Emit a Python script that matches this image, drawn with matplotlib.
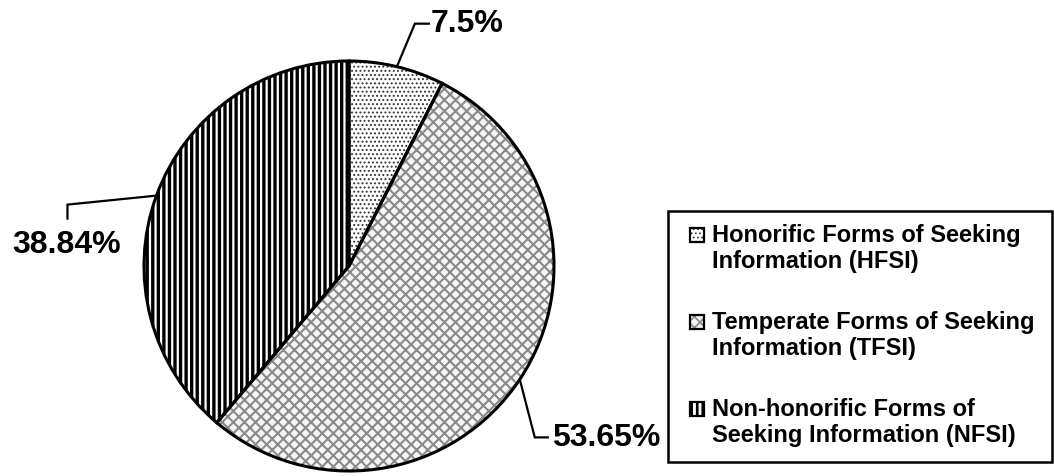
import numpy as np
import matplotlib
matplotlib.use("Agg")
import matplotlib.pyplot as plt
from matplotlib.patches import Wedge, Rectangle

plt.rcParams['font.family'] = ['Liberation Sans', 'DejaVu Sans']
plt.rcParams['font.weight'] = 'bold'

labels = ['Honorific Forms of Seeking\nInformation (HFSI)',
          'Temperate Forms of Seeking\nInformation (TFSI)',
          'Non-honorific Forms of\nSeeking Information (NFSI)']
values = [7.5, 53.65, 38.84]
pct_text = ['7.5%', '53.65%', '38.84%']
hatches = ['....', 'xxx', '|||']
hatch_cols = ['#333333', '#8a8a8a', 'black']
face_cols = ['white', '#f6f6f6', 'white']
hatch_lw = [0.9, 1.5, 2.4]

W, H = 1054, 477
fig = plt.figure(figsize=(W / 100, H / 100), dpi=100)
ax = fig.add_axes([0, 0, 1, 1])

cx, cy, R = 349, 210, 205
wedges, _ = ax.pie(values, startangle=90, counterclock=False,
                   center=(cx, cy), radius=R, frame=False)
ax.set_xlim(0, W)
ax.set_ylim(0, H)
ax.set_aspect('equal')
ax.axis('off')

for w, h, hc, fc, hl in zip(wedges, hatches, hatch_cols, face_cols, hatch_lw):
    w.set_facecolor(fc)
    w.set_hatch(h)
    w.set_edgecolor(hc)
    w.set_linewidth(0)
    if hasattr(w, 'set_hatch_linewidth'):
        w.set_hatch_linewidth(hl)
    # outline on top
    ax.add_patch(Wedge(w.center, w.r, w.theta1, w.theta2, fill=False,
                       edgecolor='black', linewidth=2.2, zorder=3))

# leader lines and percentage labels
elbows = [(18, 43), (15, -58), (-89, -9)]
ends = [(14, 0), (13, 0), (0, -14)]
text_pos = [(431, 453), (552, 39), (67, 232)]
text_ha = ['left', 'left', 'center']
for w, el, en, tp, ha, t in zip(wedges, elbows, ends, text_pos, text_ha, pct_text):
    mid = np.deg2rad((w.theta1 + w.theta2) / 2)
    x0, y0 = cx + R * np.cos(mid), cy + R * np.sin(mid)
    x1, y1 = x0 + el[0], y0 + el[1]
    x2, y2 = x1 + en[0], y1 + en[1]
    ax.plot([x0, x1, x2], [y0, y1, y2], color='black', lw=1.6, zorder=4,
            solid_joinstyle='miter')
    ax.text(tp[0], tp[1], t, fontsize=23, fontweight='bold', ha=ha, va='center')

# legend drawn manually
lax = fig.add_axes([0, 0, 1, 1])
lax.set_xlim(0, W)
lax.set_ylim(H, 0)
lax.axis('off')
lax.add_patch(Rectangle((668, 212), 384, 251, fill=False, edgecolor='black', lw=1.8))
rows = [228, 315, 402]
for y, lab, h, hc, fc, hl in zip(rows, labels, hatches, hatch_cols, face_cols, hatch_lw):
    p = Rectangle((690, y + 1), 14, 14, facecolor=fc, edgecolor=hc, hatch=h, lw=0)
    if hasattr(p, 'set_hatch_linewidth'):
        p.set_hatch_linewidth(hl * 0.8)
    lax.add_patch(p)
    lax.add_patch(Rectangle((690, y + 1), 14, 14, fill=False, edgecolor='black', lw=1.6))
    lax.text(712, y - 4, lab, fontsize=17, fontweight='bold', ha='left', va='top',
             linespacing=1.18)

fig.savefig('out.png', dpi=100)
